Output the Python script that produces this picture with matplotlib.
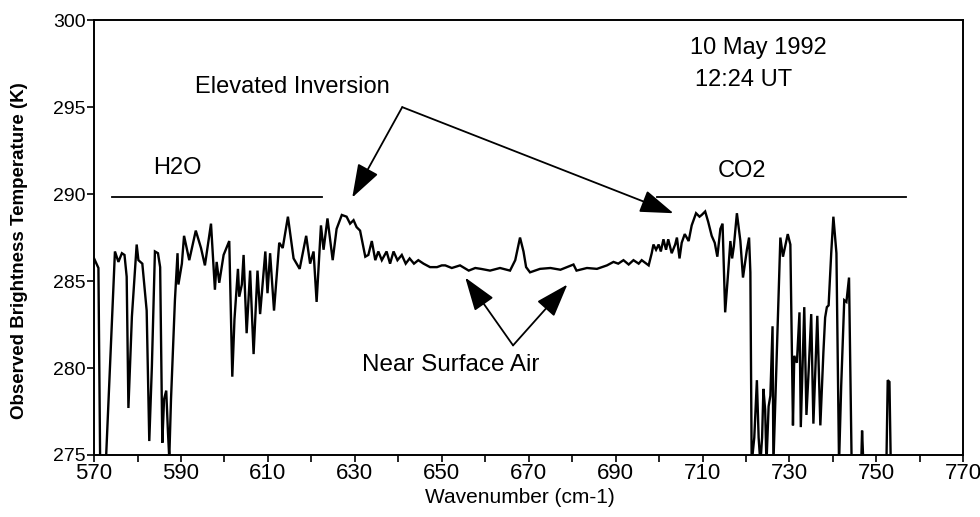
import matplotlib
matplotlib.use('Agg')
import matplotlib.pyplot as plt

# spectrum (wavenumber cm-1, brightness temperature K)
wavenumber = [
    570.0, 571.0, 571.4, 572.7, 574.8, 575.6, 576.4, 577.0, 577.5, 577.9,
    578.7, 579.8, 580.2, 581.1, 582.1, 582.7, 583.3, 584.0, 584.7, 585.2,
    585.7, 586.1, 586.6, 587.0, 587.3, 587.7, 588.6, 589.2, 589.4, 590.2,
    590.7, 591.9, 593.4, 594.6, 595.5, 596.9, 597.8, 598.2, 598.8, 599.8,
    601.1, 601.8, 602.3, 603.1, 603.4, 604.0, 604.4, 605.1, 605.9, 606.7,
    607.6, 608.2, 609.4, 609.9, 610.5, 611.4, 612.6, 613.4, 614.6, 615.9,
    617.3, 618.8, 619.7, 620.5, 621.2, 622.2, 622.8, 623.7, 624.9, 625.8,
    627.0, 628.1, 628.9, 629.7, 630.4, 631.2, 632.4, 633.1, 633.9, 634.7,
    635.4, 636.2, 637.3, 638.1, 638.9, 639.8, 640.8, 641.7, 642.6, 643.6,
    644.6, 645.8, 647.3, 648.9, 650.0, 650.8, 652.3, 654.2, 656.2, 657.7,
    659.0, 661.1, 663.4, 665.7, 666.9, 668.0, 668.8, 669.4, 670.3, 672.6,
    675.0, 677.3, 680.3, 681.0, 683.4, 685.7, 688.0, 689.5, 690.6, 691.8,
    693.0, 694.1, 695.3, 696.0, 697.6, 698.3, 698.7, 699.3, 699.9, 700.4,
    701.0, 701.6, 702.1, 702.9, 703.7, 704.1, 704.7, 705.2, 705.9, 706.8,
    707.5, 708.5, 709.3, 709.8, 710.6, 711.3, 712.1, 712.8, 713.4, 714.1,
    714.6, 715.2, 715.8, 716.4, 716.8, 717.2, 717.9, 718.7, 719.3, 720.2,
    720.7, 721.0, 721.3, 721.9, 722.5, 722.9, 723.3, 723.7, 724.0, 724.4,
    724.7, 725.2, 725.6, 726.1, 726.3, 726.9, 727.9, 728.5, 729.0, 729.6,
    730.2, 730.8, 731.1, 731.7, 732.3, 732.6, 733.4, 733.9, 734.4, 735.0,
    735.5, 736.4, 737.1, 737.8, 738.2, 738.6, 739.0, 739.6, 740.1, 740.8,
    741.4, 741.9, 742.6, 743.1, 743.7, 744.0, 744.3, 746.5, 746.7, 747.0,
    752.3, 752.6, 753.0, 753.3, 770.0,
]
temperature = [
    286.3, 285.75, 274.5, 274.5, 286.7, 286.1, 286.6, 286.5, 285.25, 277.7,
    282.95, 287.1, 286.2, 286.0, 283.3, 275.8, 280.1, 286.7, 286.6, 285.8,
    275.7, 278.2, 278.7, 276.3, 274.8, 278.2, 283.9, 286.6, 284.8, 286.0,
    287.6, 286.2, 287.9, 286.9, 285.9, 288.3, 284.5, 286.1, 284.9, 286.5,
    287.3, 279.5, 282.8, 285.7, 284.1, 284.8, 286.5, 282.0, 285.6, 280.8,
    285.6, 283.1, 286.7, 284.3, 286.6, 283.3, 287.2, 286.9, 288.7, 286.3,
    285.7, 287.6, 286.0, 286.7, 283.8, 288.2, 286.8, 288.6, 286.2, 288.0,
    288.8, 288.7, 288.3, 288.5, 288.1, 287.9, 286.4, 286.5, 287.3, 286.2,
    286.7, 286.2, 286.7, 286.0, 286.7, 286.2, 286.5, 286.0, 286.3, 286.0,
    286.2, 286.0, 285.8, 285.8, 285.9, 285.9, 285.75, 285.9, 285.6, 285.75,
    285.7, 285.6, 285.75, 285.6, 286.2, 287.5, 286.7, 285.8, 285.5, 285.7,
    285.75, 285.65, 285.95, 285.6, 285.75, 285.7, 285.9, 286.1, 286.0, 286.2,
    285.95, 286.2, 286.0, 286.2, 285.9, 286.6, 287.1, 286.8, 287.1, 286.7,
    287.4, 286.8, 287.4, 286.6, 287.1, 287.5, 286.3, 287.2, 287.7, 287.3,
    288.2, 288.9, 288.7, 288.8, 289.0, 288.4, 287.6, 287.2, 286.4, 288.0,
    288.3, 283.2, 285.2, 287.3, 286.3, 287.0, 288.9, 287.3, 285.2, 286.8,
    287.5, 285.5, 274.5, 276.0, 279.3, 276.0, 274.5, 276.0, 278.8, 277.6,
    274.5, 277.8, 278.4, 282.4, 274.5, 279.4, 287.5, 286.4, 287.0, 287.7,
    287.1, 276.7, 280.7, 280.3, 283.2, 276.6, 283.5, 277.3, 279.8, 283.1,
    276.8, 283.0, 276.7, 280.9, 282.9, 283.5, 283.6, 286.6, 288.7, 286.6,
    274.5, 279.0, 283.9, 283.8, 285.2, 280.0, 274.5, 274.5, 276.4, 274.5,
    274.5, 279.3, 279.2, 274.5, 274.5,
]

x_ticks = list(range(570, 771, 20))
y_ticks = [275, 280, 285, 290, 295, 300]

plt.rcParams['font.family'] = ['Liberation Sans', 'DejaVu Sans']

fig = plt.figure(figsize=(9.8, 5.17), dpi=100)
ax = fig.add_axes([0.096, 0.12, 0.887, 0.841])

ax.plot(wavenumber, temperature, color='black', lw=1.7, solid_joinstyle='miter')

ax.set_xlim(570, 770)
ax.set_ylim(275, 300)
ax.set_xticks(x_ticks)
ax.set_xticks(list(range(580, 770, 20)), minor=True)
ax.set_yticks(y_ticks)
ax.tick_params(axis='both', which='both', direction='out', length=5, width=1.2,
               pad=1, color='black')
ax.tick_params(axis='x', labelsize=16)
ax.tick_params(axis='y', labelsize=14)
for s in ax.spines.values():
    s.set_linewidth(1.4)

ax.set_xlabel('Wavenumber (cm-1)', fontsize=15, va='center')
ax.xaxis.set_label_coords(0.49, -0.097)
ax.set_ylabel('Observed Brightness Temperature (K)', fontsize=13.5,
              fontweight='bold', va='center')
ax.yaxis.set_label_coords(-0.086, 0.47)

fs = 17
# band labels with horizontal bars
ax.plot([574.1, 622.5], [289.83, 289.83], color='black', lw=1.3)
ax.text(583.6, 291.5, 'H2O', fontsize=fs, va='center', ha='left')
ax.plot([699.6, 756.7], [289.83, 289.83], color='black', lw=1.3)
ax.text(713.6, 291.3, 'CO2', fontsize=fs, va='center', ha='left')

ax.text(707.2, 298.4, '10 May 1992', fontsize=fs, va='center', ha='left')
ax.text(708.3, 296.55, '12:24 UT', fontsize=fs, va='center', ha='left')

arrow = dict(arrowstyle='-|>,head_length=1.6,head_width=0.55', mutation_scale=13,
             fc='black', ec='black', lw=1.3, shrinkA=0, shrinkB=0)

ax.text(593.2, 296.15, 'Elevated Inversion', fontsize=fs, va='center', ha='left')
ax.annotate('', xy=(629.4, 289.8), xytext=(640.9, 295.0), arrowprops=arrow)
ax.annotate('', xy=(703.3, 288.9), xytext=(640.9, 295.0), arrowprops=arrow)

ax.text(631.7, 280.2, 'Near Surface Air', fontsize=17.5, va='center', ha='left')
ax.annotate('', xy=(655.4, 285.2), xytext=(666.4, 281.3), arrowprops=arrow)
ax.annotate('', xy=(678.9, 284.8), xytext=(666.4, 281.3), arrowprops=arrow)

fig.savefig('out.png', dpi=100)
